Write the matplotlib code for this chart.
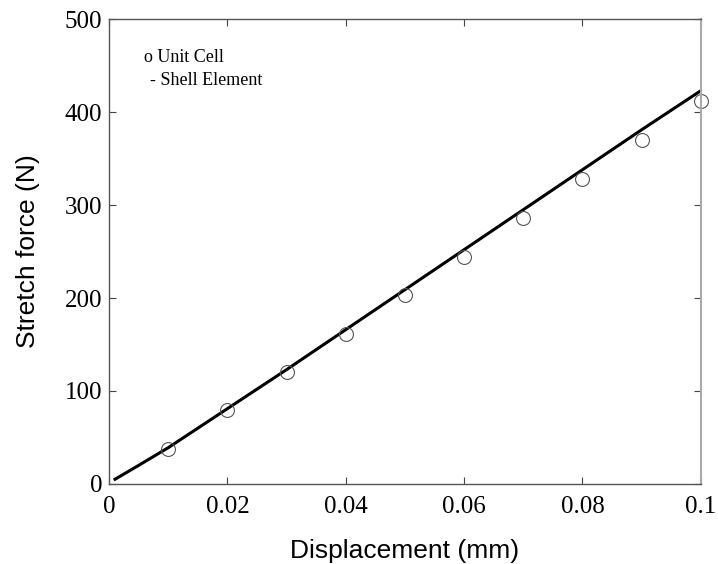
import numpy as np
import matplotlib
matplotlib.use("Agg")
import matplotlib.pyplot as plt

# unit cell results (circles)
disp_cell = [0.01, 0.02, 0.03, 0.04, 0.05, 0.06, 0.07, 0.08, 0.09, 0.10]
force_cell = [38, 79, 120, 161, 203, 244, 286, 328, 370, 412]

# shell element curve
disp_shell = [0.001, 0.005, 0.01, 0.02, 0.03, 0.04, 0.05, 0.06, 0.07, 0.08, 0.09, 0.10]
force_shell = [5, 20, 39, 81, 123, 166, 209, 252, 295, 338, 381, 423]

xticks = [0, 0.02, 0.04, 0.06, 0.08, 0.1]
xticklabels = ["0", "0.02", "0.04", "0.06", "0.08", "0.1"]
yticks = [0, 100, 200, 300, 400, 500]
yticklabels = ["0", "100", "200", "300", "400", "500"]

fig = plt.figure(figsize=(7.18, 5.64), dpi=100)
ax = fig.add_axes([0.152, 0.142, 0.824, 0.824])

ax.plot(disp_shell, force_shell, color="black", linewidth=2.2)
ax.plot(disp_cell, force_cell, linestyle="none", marker="o", markersize=10,
        markerfacecolor="none", markeredgecolor="#555555", markeredgewidth=0.8,
        clip_on=False)

ax.set_xlim(0, 0.1)
ax.set_ylim(0, 500)
ax.set_xticks(xticks)
ax.set_xticklabels(xticklabels, family="Liberation Serif", fontsize=18)
ax.set_yticks(yticks)
ax.set_yticklabels(yticklabels, family="Liberation Serif", fontsize=18)
ax.tick_params(direction="in", top=True, right=True, length=5, width=0.8,
               color="#444444")
ax.tick_params(axis="x", pad=9)
ax.tick_params(axis="y", pad=5)

for side in ["left", "bottom", "top"]:
    ax.spines[side].set_color("#555555")
    ax.spines[side].set_linewidth(1.0)
ax.spines["right"].set_color("#aaaaaa")
ax.spines["right"].set_linewidth(1.5)

ax.set_xlabel("Displacement (mm)", family="Liberation Sans", fontsize=19, labelpad=15)
ax.set_ylabel("Stretch force (N)", family="Liberation Sans", fontsize=19, labelpad=18)

# hand-made legend as in the original
ax.text(0.0059, 459, "o Unit Cell", family="Liberation Serif", fontsize=13,
        va="center", ha="left")
ax.text(0.0069, 434, "- Shell Element", family="Liberation Serif", fontsize=13,
        va="center", ha="left")

fig.savefig("out.png", dpi=100)
